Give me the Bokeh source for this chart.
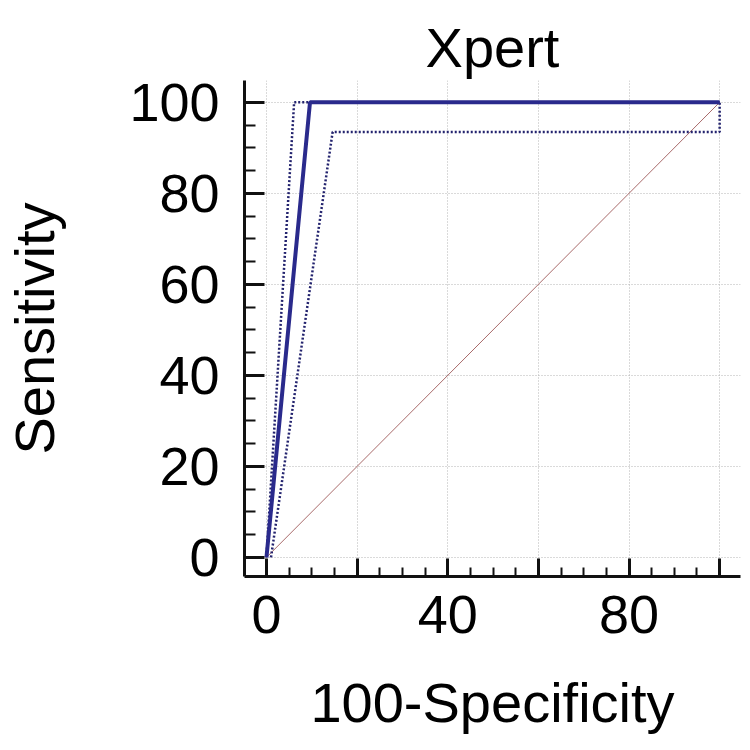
from bokeh.plotting import figure
from bokeh.models import Range1d, FixedTicker
from bokeh.embed import file_html
from bokeh.resources import INLINE

# ROC curve and its confidence bounds (100-Specificity vs Sensitivity)
roc_x = [0, 9.6, 100]
roc_y = [0, 100, 100]
ci_upper_x = [0, 6.1, 100]
ci_upper_y = [0, 100, 100]
ci_lower_x = [1.0, 14.6, 100, 100]
ci_lower_y = [0, 93.5, 93.5, 100]
diag_x = [0, 100]
diag_y = [0, 100]

major_ticks = [0, 20, 40, 60, 80, 100]
minor_ticks = [0, 5, 10, 15, 20, 25, 30, 35, 40, 45, 50, 55, 60, 65, 70, 75, 80, 85, 90, 95, 100]
x_tick_labels = {0: "0", 20: "", 40: "40", 60: "", 80: "80", 100: ""}
y_tick_labels = {0: "0", 20: "20", 40: "40", 60: "60", 80: "80", 100: "100"}
title_text = "Xpert"

FONT = "Liberation Sans"
FS = "56px"
TICK_FS = "54px"

p = figure(width=742, height=742, output_backend="svg", toolbar_location=None,
           x_range=Range1d(-4.85, 104.6), y_range=Range1d(-4.2, 104.8),
           min_border_left=243, min_border_right=2, min_border_top=80, min_border_bottom=166,
           title=title_text)
p.outline_line_color = None
p.background_fill_color = "white"

p.title.text_font = FONT
p.title.text_font_size = FS
p.title.text_font_style = "normal"
p.title.text_color = "black"
p.title.align = "center"
p.title.vertical_align = "top"
p.title.standoff = 0

for ax in (p.xaxis[0], p.yaxis[0]):
    ax.ticker = FixedTicker(ticks=major_ticks, minor_ticks=minor_ticks)
    ax.axis_line_width = 3
    ax.axis_line_color = "#111111"
    ax.major_tick_line_width = 3
    ax.major_tick_line_color = "#111111"
    ax.minor_tick_line_width = 2
    ax.minor_tick_line_color = "#111111"
    ax.major_tick_out = 0
    ax.minor_tick_out = 0
    ax.major_label_text_font = FONT
    ax.major_label_text_font_size = TICK_FS
    ax.major_label_text_color = "black"
    ax.axis_label_text_font = FONT
    ax.axis_label_text_font_size = FS
    ax.axis_label_text_font_style = "normal"
    ax.axis_label_text_color = "black"

p.xaxis[0].major_label_overrides = x_tick_labels
p.yaxis[0].major_label_overrides = y_tick_labels
p.xaxis[0].major_tick_in = 18
p.xaxis[0].minor_tick_in = 9
p.yaxis[0].major_tick_in = 20
p.yaxis[0].minor_tick_in = 11
p.xaxis[0].axis_label = "100-Specificity"
p.yaxis[0].axis_label = "Sensitivity"
p.xaxis[0].major_label_standoff = 19
p.yaxis[0].major_label_standoff = 25
p.xaxis[0].axis_label_standoff = 35
p.yaxis[0].axis_label_standoff = 60

for g in (p.xgrid[0], p.ygrid[0]):
    g.grid_line_color = "#b5b5b5"
    g.grid_line_dash = "1 2"
    g.grid_line_width = 1

p.line(diag_x, diag_y, line_color="#a86a6a", line_width=1)
p.line(ci_upper_x, ci_upper_y, line_color="#23236e", line_width=2.5, line_dash="2 2")
p.line(ci_lower_x, ci_lower_y, line_color="#23236e", line_width=2.5, line_dash="2 2")
p.line(roc_x, roc_y, line_color="#2a2a8c", line_width=4)

open("out.html", "w").write(file_html(p, INLINE))
